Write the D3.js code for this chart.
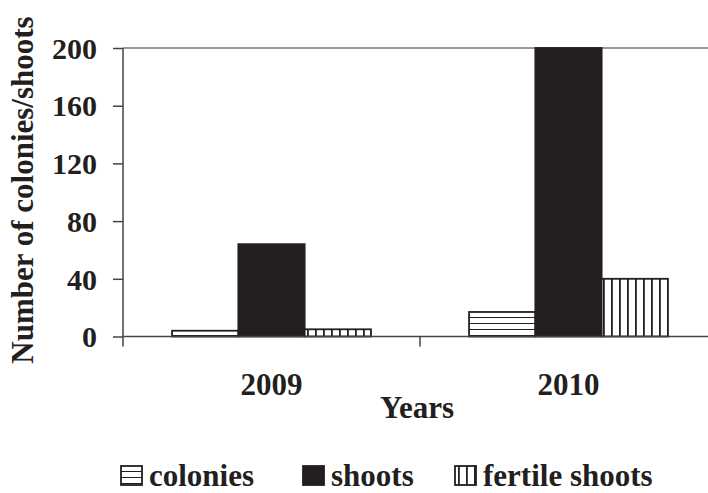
<!DOCTYPE html>
<html lang="en">
<head>
<meta charset="UTF-8">
<title>Colonies and shoots per year</title>
<script src="https://cdn.jsdelivr.net/npm/d3@7"></script>
<style>
    body {margin: 0; background: #fff;}
    svg text {font-family: "Liberation Serif", "Times New Roman", serif; font-weight: bold; fill: #231f20;}
</style>
</head>
<body>
<svg id="chart"></svg>
<script>
    // DATA
    const years = ["2009", "2010"];
    const series = ["colonies", "shoots", "fertile shoots"];
    const colonies = [4, 17];
    const shoots = [64, 200];
    const fertileShoots = [5, 40];
    const yTicks = [0, 40, 80, 120, 160, 200];

    const values = {colonies: colonies, shoots: shoots, "fertile shoots": fertileShoots};
    const rows = years.flatMap((yr, i) => series.map(s => ({year: yr, key: s, value: values[s][i]})));

    // Dimensions
    const dim = {width: 708, height: 493};
    const plot = {left: 123, top: 48, width: 594, bottom: 336.5};
    const ink = "#231f20";

    const svg = d3.select("#chart").attr("width", dim.width).attr("height", dim.height);

    // Patterns
    const defs = svg.append("defs");
    const hp = defs.append("pattern").attr("id", "hlines")
        .attr("patternUnits", "userSpaceOnUse").attr("width", 8).attr("height", 6);
    hp.append("rect").attr("width", 8).attr("height", 6).attr("fill", "#fff");
    hp.append("rect").attr("y", 5).attr("width", 8).attr("height", 1.8).attr("fill", ink);
    const vp = defs.append("pattern").attr("id", "vlines")
        .attr("patternUnits", "userSpaceOnUse").attr("width", 8).attr("height", 8);
    vp.append("rect").attr("width", 8).attr("height", 8).attr("fill", "#fff");
    vp.append("rect").attr("x", 3).attr("width", 1.8).attr("height", 8).attr("fill", ink);

    const fill = {colonies: "url(#hlines)", shoots: ink, "fertile shoots": "url(#vlines)"};

    // Scales
    const x0 = d3.scaleBand().domain(years).range([plot.left, plot.left + plot.width]);
    const x1 = d3.scaleBand().domain(series).range([0, x0.bandwidth()]).paddingOuter(0.74);
    const y = d3.scaleLinear().domain([0, 200]).range([plot.bottom, plot.top]);

    // top gridline
    svg.append("line")
        .attr("x1", plot.left).attr("x2", dim.width)
        .attr("y1", y(200)).attr("y2", y(200))
        .attr("stroke", "#9a9a9a").attr("stroke-width", 2);

    // Bars
    svg.append("g").selectAll("rect")
        .data(rows)
        .join("rect")
          .attr("x", d => x0(d.year) + x1(d.key))
          .attr("y", d => y(d.value))
          .attr("width", x1.bandwidth())
          .attr("height", d => y(0) - y(d.value))
          .attr("fill", d => fill[d.key])
          .attr("stroke", ink)
          .attr("stroke-width", 1.8);

    // Y axis
    const yAxis = svg.append("g")
        .attr("transform", `translate(${plot.left},0)`)
        .call(d3.axisLeft(y).tickValues(yTicks).tickSize(10).tickPadding(16));
    yAxis.select(".domain").remove();
    yAxis.selectAll(".tick line").attr("stroke", "#444").attr("stroke-width", 1.5);
    yAxis.selectAll(".tick text").style("font-size", "30px").attr("dy", "0.34em");

    // axis lines
    svg.append("line")
        .attr("x1", plot.left).attr("x2", plot.left)
        .attr("y1", plot.top).attr("y2", plot.bottom + 10)
        .attr("stroke", "#444").attr("stroke-width", 1.5);
    svg.append("line")
        .attr("x1", plot.left).attr("x2", dim.width)
        .attr("y1", plot.bottom).attr("y2", plot.bottom)
        .attr("stroke", "#444").attr("stroke-width", 1.5);

    // category boundary ticks
    svg.append("g").selectAll("line")
        .data(years.slice(1))
        .join("line")
          .attr("x1", d => x0(d)).attr("x2", d => x0(d))
          .attr("y1", plot.bottom).attr("y2", plot.bottom + 10)
          .attr("stroke", "#444").attr("stroke-width", 1.5);

    // X labels
    const xAxis = svg.append("g")
        .attr("transform", `translate(0,${plot.bottom})`)
        .call(d3.axisBottom(x0).tickSize(0).tickPadding(0));
    xAxis.select(".domain").remove();
    xAxis.selectAll(".tick text").style("font-size", "31px").attr("dy", null).attr("y", 58);

    // axis titles
    svg.append("text")
        .attr("x", 417).attr("y", 418)
        .attr("text-anchor", "middle")
        .style("font-size", "31px")
        .text("Years");
    svg.append("text")
        .attr("transform", "translate(33,190) rotate(-90)")
        .attr("text-anchor", "middle")
        .style("font-size", "31px")
        .text("Number of colonies/shoots");

    // Legend
    const legendX = [121, 303, 455];
    const legend = svg.append("g").selectAll("g")
        .data(series)
        .join("g")
          .attr("transform", (d, i) => `translate(${legendX[i]},466)`);
    legend.append("rect")
        .attr("width", 21).attr("height", 19)
        .attr("fill", d => fill[d])
        .attr("stroke", ink).attr("stroke-width", 1.8);
    legend.append("text")
        .attr("x", 28).attr("y", 20)
        .style("font-size", "31px")
        .text(d => d);
</script>
</body>
</html>
